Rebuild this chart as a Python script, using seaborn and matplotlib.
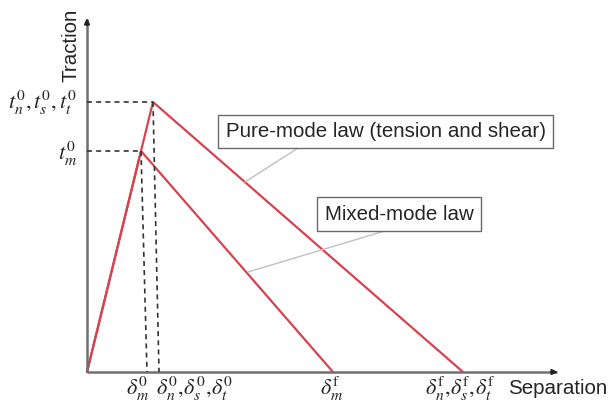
import matplotlib
matplotlib.use("Agg")
import matplotlib.pyplot as plt
import seaborn as sns
import pandas as pd

# ---- data (separation / traction values) ----
law_names = ["Pure-mode law (tension and shear)", "Mixed-mode law"]
pure_sep = [0, 66, 376]
pure_trac = [0, 270, 0]
mixed_sep = [0, 54, 246]
mixed_trac = [0, 221, 0]
sep_tick_labels = [r"$\delta_m^0$", r"$\delta_n^0,\!\delta_s^0,\!\delta_t^0$",
                   r"$\delta_m^\mathrm{f}$", r"$\delta_n^\mathrm{f},\!\delta_s^\mathrm{f},\!\delta_t^\mathrm{f}$"]
sep_tick_pos = [51, 108, 245, 373]
trac_tick_labels = [r"$t_n^0,t_s^0,t_t^0$", r"$t_m^0$"]
trac_tick_pos = [269, 218]

sns.set_theme(style="white")
plt.rcParams["font.family"] = ["Liberation Sans", "DejaVu Sans"]
plt.rcParams["mathtext.fontset"] = "stix"

df = pd.concat([
    pd.DataFrame({"sep": pure_sep, "trac": pure_trac, "law": law_names[0]}),
    pd.DataFrame({"sep": mixed_sep, "trac": mixed_trac, "law": law_names[1]}),
])

fig = plt.figure(figsize=(6.11, 4.07), dpi=100)
ax = fig.add_axes([0, 0, 1, 1])
ax.set_xlim(-87, 524)
ax.set_ylim(-35, 372)
ax.axis("off")

red = "#d6434f"
sns.lineplot(data=df, x="sep", y="trac", hue="law", palette=[red, red],
             sort=False, estimator=None, lw=1.6, legend=False, ax=ax)

# axes with small dark arrow tips
axcol = "#707070"
ax.plot([0, 470], [0, 0], color=axcol, lw=1.8, solid_capstyle="butt")
ax.plot([0, 0], [0, 353], color=axcol, lw=1.8, solid_capstyle="butt")
ax.annotate("", xy=(471, 0), xytext=(464, 0),
            arrowprops=dict(arrowstyle="-|>,head_length=0.25,head_width=0.12",
                            color="#222222", lw=1.5, shrinkA=0, shrinkB=0))
ax.annotate("", xy=(0, 354), xytext=(0, 347),
            arrowprops=dict(arrowstyle="-|>,head_length=0.25,head_width=0.12",
                            color="#222222", lw=1.5, shrinkA=0, shrinkB=0))

# dashed guides
dash = dict(color="#333333", lw=1.2, ls=(0, (3, 2.5)))
ax.plot([0, pure_sep[1]], [pure_trac[1]] * 2, **dash)
ax.plot([pure_sep[1], pure_sep[1] + 6], [pure_trac[1], 0], **dash)
ax.plot([0, mixed_sep[1]], [mixed_trac[1]] * 2, **dash)
ax.plot([mixed_sep[1], mixed_sep[1] + 6], [mixed_trac[1], 0], **dash)

# tick-like labels
for lab, x in zip(sep_tick_labels, sep_tick_pos):
    ax.text(x, -17, lab, ha="center", va="center", fontsize=16)
for lab, y in zip(trac_tick_labels, trac_tick_pos):
    ax.text(-10, y, lab, ha="right", va="center", fontsize=16)

ax.text(-16, 327, "Traction", rotation=90, ha="center", va="center", fontsize=14.8)
ax.text(421, -16, "Separation", ha="left", va="center", fontsize=14.8)

# callout boxes
box = dict(boxstyle="square,pad=0.35", fc="white", ec="#6a6a6a", lw=1.0)
ax.plot([158, 211], [190, 224], color="#c0c0c0", lw=1.0)
ax.plot([161, 301], [100, 142], color="#c0c0c0", lw=1.0)
ax.text(298.5, 240.5, law_names[0], ha="center", va="center", fontsize=14.8, bbox=box)
ax.text(312, 158, law_names[1], ha="center", va="center", fontsize=14.8, bbox=box)

fig.savefig("out.png", dpi=100)
